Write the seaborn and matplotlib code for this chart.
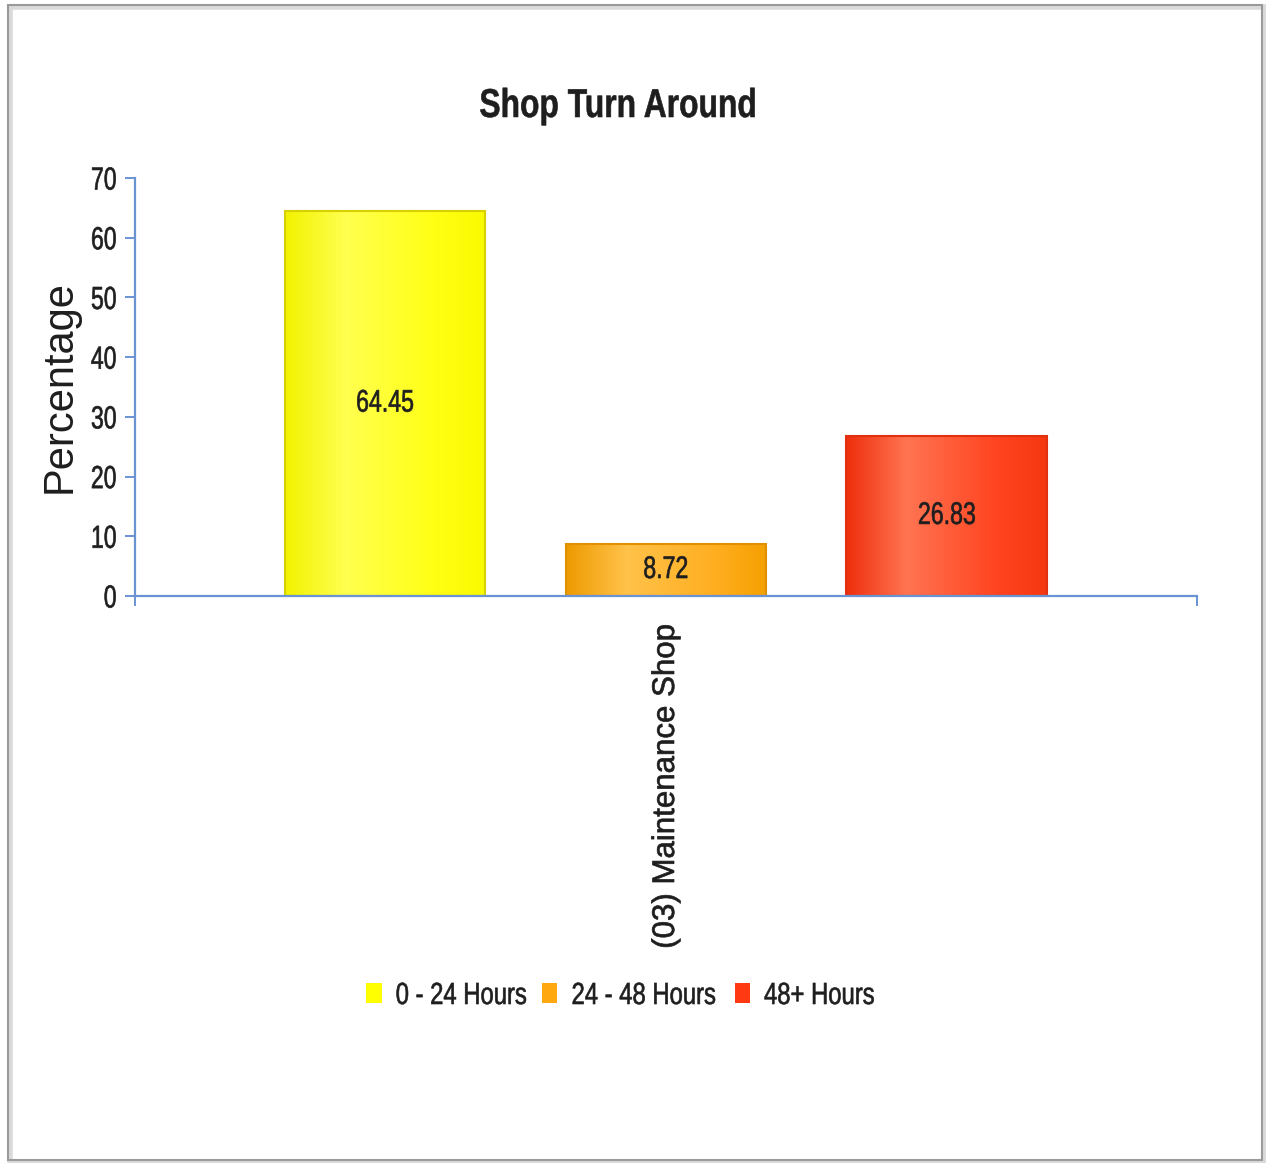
import numpy as np
import pandas as pd
import matplotlib
matplotlib.use("Agg")
import matplotlib.pyplot as plt
from matplotlib.colors import LinearSegmentedColormap
from matplotlib.patches import Rectangle
from matplotlib.patheffects import AbstractPathEffect
from matplotlib.path import Path
import seaborn as sns

# Shop turnaround share by time bucket
categories = ["(03) Maintenance Shop"]
buckets = ["0 - 24 Hours", "24 - 48 Hours", "48+ Hours"]
percentages = [64.45, 8.72, 26.83]
y_ticks = [0, 10, 20, 30, 40, 50, 60, 70]

base_colors = ["#FFFF00", "#FFA810", "#FF3A12"]
shade_stops = [
    ["#F2F200", "#FFFF50", "#FFFF14", "#FAFA00"],
    ["#EE9A00", "#FFC24A", "#FFAE20", "#F5A000"],
    ["#EE2E0C", "#FF7452", "#FF4420", "#F53810"],
]
edge_colors = ["#D8D000", "#E09000", "#E03010"]

FONT = ["Liberation Sans", "DejaVu Sans"]
AXIS_BLUE = "#6A93D4"
TEXT = "#1E1E1E"


class Condense(AbstractPathEffect):
    """Squeeze a text path along its baseline to mimic a narrow face,
    optionally thickening the strokes a little."""

    def __init__(self, factor=0.8, anchor="center", stroke=0.0):
        super().__init__()
        self.factor = factor
        self.anchor = anchor
        self.stroke = stroke

    def draw_path(self, renderer, gc, tpath, affine, rgbFace=None):
        v = np.array(tpath.vertices, dtype=float)
        codes = tpath.codes
        if len(v):
            keep = np.ones(len(v), bool) if codes is None else codes != Path.CLOSEPOLY
            xs = v[keep, 0]
            xmin, xmax = xs.min(), xs.max()
            a = {"center": (xmin + xmax) / 2, "left": xmin, "right": xmax}[self.anchor]
            v[:, 0] = a + (v[:, 0] - a) * self.factor
        gc0 = renderer.new_gc()
        gc0.copy_properties(gc)
        if self.stroke > 0 and rgbFace is not None:
            gc0.set_linewidth(self.stroke)
            gc0.set_foreground(rgbFace)
        renderer.draw_path(gc0, Path(v, codes), affine, rgbFace)
        gc0.restore()


df = pd.DataFrame({
    "shop": categories * len(buckets),
    "bucket": buckets,
    "pct": percentages,
})

sns.set_theme(style="white")
plt.rcParams["font.family"] = FONT

fig = plt.figure(figsize=(12.66, 11.63), dpi=100)
ax = fig.add_axes([0.1066, 0.4875, 0.8389, 0.3594])

sns.barplot(data=df, x="shop", y="pct", hue="bucket", hue_order=buckets,
            palette=base_colors, gap=0.285, width=0.8, ax=ax,
            legend=False, saturation=1.0)

# horizontal sheen across each bar
for patch, stops, ec in zip(ax.patches, shade_stops, edge_colors):
    x0, y0 = patch.get_x(), patch.get_y()
    w, h = patch.get_width(), patch.get_height()
    cmap = LinearSegmentedColormap.from_list(
        "sheen", list(zip([0.0, 0.3, 0.75, 1.0], stops)))
    grad = np.linspace(0, 1, 256).reshape(1, -1)
    im = ax.imshow(grad, cmap=cmap, aspect="auto",
                   extent=(x0, x0 + w, y0, y0 + h), zorder=patch.get_zorder(),
                   interpolation="bicubic")
    im.set_clip_path(patch)
    patch.set_edgecolor(ec)
    patch.set_linewidth(1.5)
    patch.set_zorder(patch.get_zorder() + 0.1)
    patch.set_facecolor("none")

ax.set_xlim(-0.504, 0.504)
ax.set_ylim(0, 70)
ax.set_yticks(y_ticks)

for container in ax.containers:
    labels = ax.bar_label(container,
                          labels=[f"{v:.2f}" for v in container.datavalues],
                          label_type="center", fontsize=22.5, color=TEXT, zorder=5)
    for t in labels:
        t.set_path_effects([Condense(0.74, "center", 0.45)])

# axes styling
for side in ["top", "right"]:
    ax.spines[side].set_visible(False)
for side in ["left", "bottom"]:
    ax.spines[side].set_color(AXIS_BLUE)
    ax.spines[side].set_linewidth(1.6)

ax.tick_params(axis="y", which="major", direction="out", length=7, width=1.4,
               color=AXIS_BLUE, labelsize=23, labelcolor=TEXT, pad=6, left=True)
for lbl in ax.get_yticklabels():
    lbl.set_path_effects([Condense(0.72, "right", 0.45)])

ax.tick_params(axis="x", which="major", length=0, pad=20, labelsize=22.5,
               labelcolor=TEXT)
for lbl in ax.get_xticklabels():
    lbl.set_rotation(90)
    lbl.set_va("top")
    lbl.set_ha("center")
    lbl.set_path_effects([Condense(1.0, "right", 0.5)])

ax.set_xticks([-0.504, 0.504], minor=True)
ax.tick_params(axis="x", which="minor", direction="out", length=7, width=1.4,
               color=AXIS_BLUE, bottom=True)

ax.set_xlabel("")
ax.set_ylabel("Percentage", fontsize=30, color=TEXT, labelpad=1)

title = fig.text(618 / 1266, 1 - 106 / 1163, "Shop Turn Around", ha="center",
                 va="center", fontsize=29, fontweight="bold", color=TEXT)
title.set_path_effects([Condense(0.79, "center", 0.4)])

handles = [Rectangle((0, 0), 1, 1, facecolor=c, edgecolor="none")
           for c in base_colors]
leg = fig.legend(handles, buckets, loc="center", ncol=3,
                 bbox_to_anchor=(636 / 1266, 1 - 996 / 1163), frameon=False,
                 prop={"size": 22}, handlelength=0.5, handleheight=0.65,
                 handletextpad=0.45, columnspacing=-0.7, labelcolor=TEXT)
for t in leg.get_texts():
    t.set_path_effects([Condense(0.78, "left", 0.45)])

# outer frame
fig.patches.append(Rectangle((10 / 1266, 1 - 1162 / 1163), 1254 / 1266, 1155 / 1163,
                             transform=fig.transFigure, fill=False,
                             edgecolor="#DADADA", linewidth=4, zorder=0))
fig.patches.append(Rectangle((8 / 1266, 1 - 1160 / 1163), 1254 / 1266, 1155 / 1163,
                             transform=fig.transFigure, fill=False,
                             edgecolor="#9A9A9A", linewidth=1.5, zorder=1))

fig.savefig("out.png", dpi=100, facecolor="white")
